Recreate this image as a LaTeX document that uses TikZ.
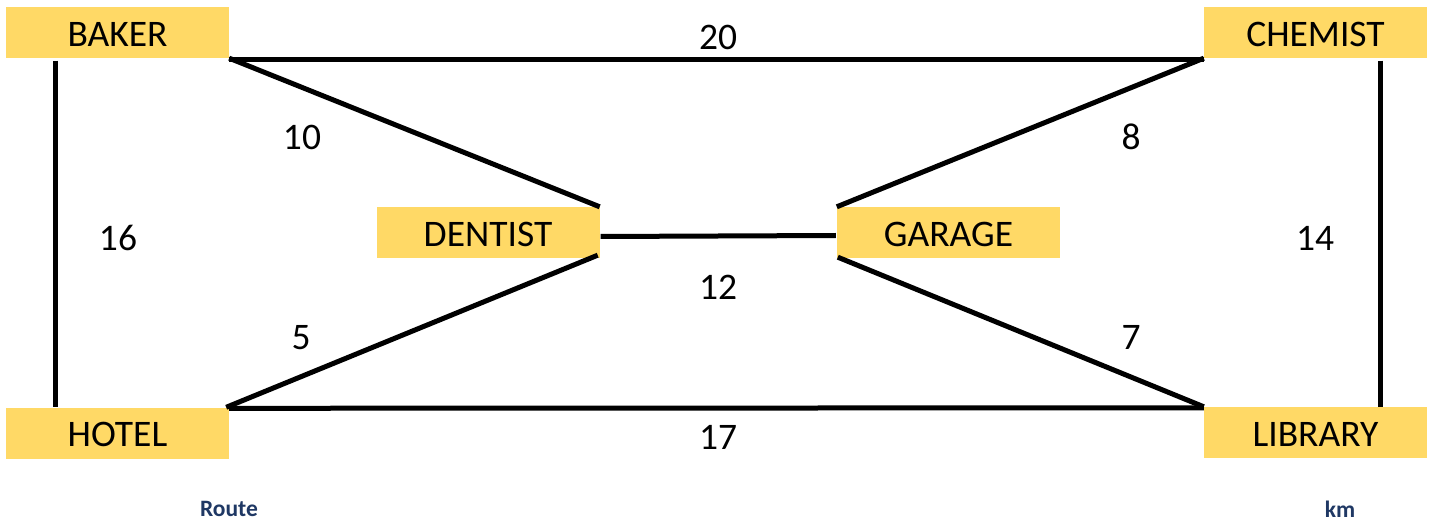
\documentclass[tikz,border=0pt]{standalone}
\usepackage{fontspec}
\setmainfont{Carlito}
\definecolor{boxyellow}{HTML}{FFD966}
\definecolor{navy}{HTML}{1F3864}
\begin{document}
\begin{tikzpicture}[x=1pt,y=-1pt,
  place/.style={fill=boxyellow,draw=none,rectangle,minimum width=223pt,minimum height=51pt,inner sep=0pt,font=\fontsize{37.5}{44}\selectfont,text depth=0pt},
  road/.style={line width=5pt,black},
  dist/.style={font=\fontsize{37.5}{44}\selectfont,inner sep=0pt,text depth=0pt},
  caption/.style={font=\fontsize{23.5}{28}\selectfont\bfseries,text=navy,inner sep=0pt}]
\useasboundingbox (0,0) rectangle (1434,521);
\node[place] (baker) at (117.5,32.5) {\raisebox{-3pt}{BAKER}};
\node[place] (chemist) at (1315.5,32.5) {\raisebox{-3pt}{CHEMIST}};
\node[place] (hotel) at (117.5,433) {\raisebox{-3pt}{HOTEL}};
\node[place] (library) at (1315.5,432.5) {\raisebox{-3pt}{LIBRARY}};
\node[place] (dentist) at (488,232.5) {\raisebox{-3pt}{DENTIST}};
\node[place] (garage) at (948.5,232.5) {\raisebox{-3pt}{GARAGE}};
% roads
\draw[road] ([yshift=-1pt]baker.south east) -- ([yshift=-1pt]chemist.south west);
\draw[road] ([xshift=50pt,yshift=-2.5pt]baker.south west) -- ([xshift=50pt]hotel.north west);
\draw[road] ([xshift=-47pt,yshift=-2.5pt]chemist.south east) -- ([xshift=-47pt]library.north east);
\draw[road] ([yshift=-1pt]hotel.north east) -- ([yshift=-1pt]library.north west);
\draw[road] (baker.south east) -- (dentist.north east);
\draw[road] (chemist.south west) -- (garage.north west);
\draw[road] ([xshift=-2pt,yshift=3pt]dentist.south east) -- ([xshift=-3pt]hotel.north east);
\draw[road] ([xshift=1pt,yshift=1pt]garage.south west) -- (library.north west);
\draw[road] ([xshift=1pt,yshift=-4pt]dentist.east) -- ([xshift=-1pt,yshift=-3pt]garage.west);
% distances
\node[dist] (d20) at (718,37) {20};
\node[dist] (d10) at (302,137) {10};
\node[dist] (d8) at (1131,137) {8};
\node[dist] (d16) at (118,238) {16};
\node[dist] (d14) at (1315,238) {14};
\node[dist] (d12) at (718,287) {12};
\node[dist] (d5) at (301,337) {5};
\node[dist] (d7) at (1131,337) {7};
\node[dist] (d17) at (718,437) {17};
% captions
\node[caption] (route) at (229,509) {Route};
\node[caption] (km) at (1340,509) {km};
\end{tikzpicture}
\end{document}
